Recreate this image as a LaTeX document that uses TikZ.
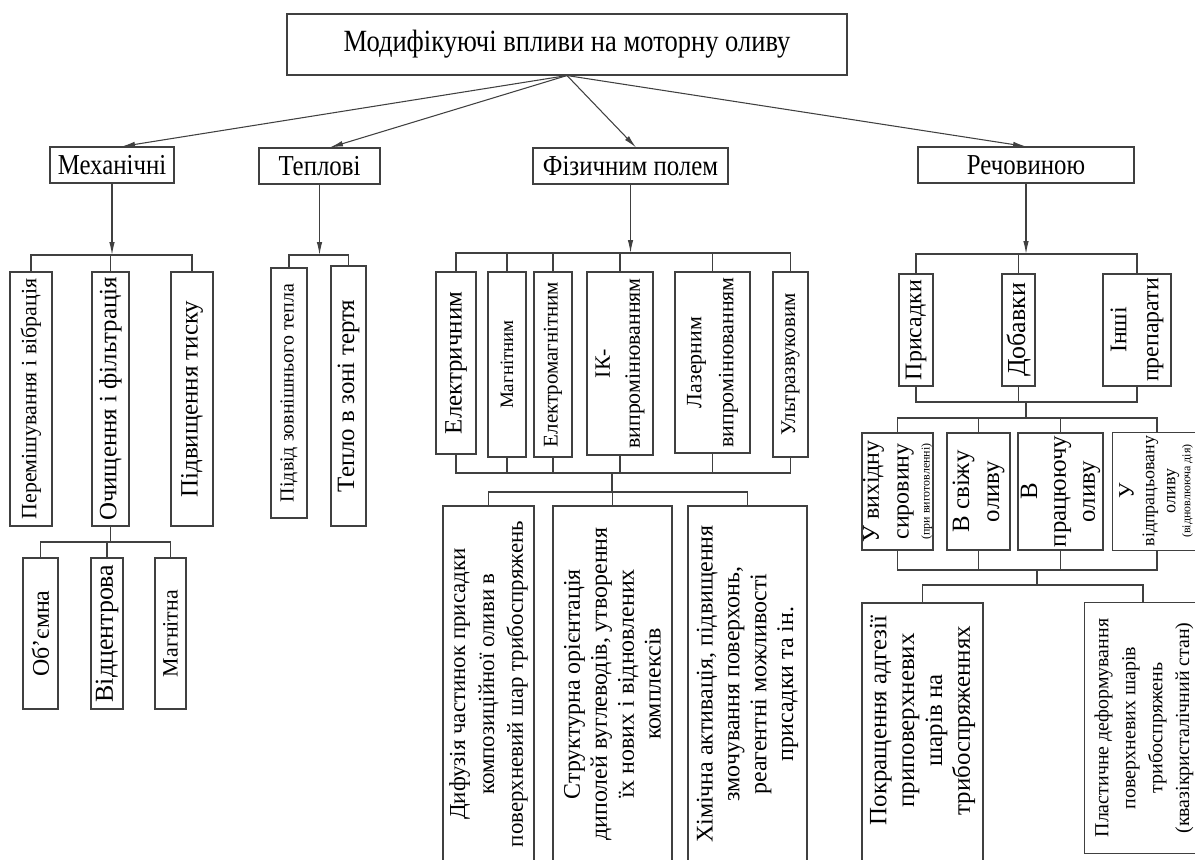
\documentclass[tikz,border=0pt]{standalone}
\usepackage{fontspec}
\setmainfont{Liberation Serif}
\newfontfamily\tallf[FakeStretch=0.86]{Liberation Serif}
\usetikzlibrary{arrows.meta,fit}
\newcommand\pxf[2]{\fontsize{\dimexpr0.5669pt*#1\relax}{\dimexpr0.5669pt*#2\relax}\selectfont}
\tikzset{
  bx/.style={draw=black!75, line width=0.6pt, inner sep=0pt, fit={#1}},
  obx/.style={inner sep=0pt, fit={#1}},
  vt/.style={rotate=90, align=center, inner sep=0pt},
  ht/.style={align=center, inner sep=0pt},
  ln/.style={draw=black!75, line width=0.6pt},
  arr/.style={ln, -{Latex[length=2.6mm,width=1.1mm]}}
}
\newcommand\BX[6][vt]{%
  \node[bx={#3 #4}] (#2) {};
  \node[#1, font={#5}] (#2-t) at (#2.center) {#6};}
\begin{document}
\begin{tikzpicture}[x=0.02cm, y=-0.02cm]
\useasboundingbox (0,0) rectangle (1195,859);
\fill[white] (0,0) rectangle (1195,859);
\clip (0,0) rectangle (1195,859);

% top
\BX[ht]{top}{(287,14)}{(847,75)}{\tallf\pxf{31}{36}}{Модифікуючі впливи на моторну оливу}

% level 1
\BX[ht]{mech}{(50,147)}{(174,183)}{\tallf\pxf{29}{34}}{Механічні}
\BX[ht]{therm}{(259,148)}{(380,184)}{\tallf\pxf{29}{34}}{Теплові}
\BX[ht]{phys}{(533,148)}{(728,184)}{\tallf\pxf{29}{34}}{Фізичним полем}
\BX[ht]{subst}{(918,147)}{(1134,183)}{\tallf\pxf{29}{34}}{Речовиною}

\draw[arr] (top.south) -- ([xshift=0.2cm]mech.north);
\draw[arr] (top.south) -- ([xshift=0.21cm]therm.north);
\draw[arr] (top.south) -- ([xshift=0.11cm]phys.north);
\draw[arr] (top.south) -- (subst.north);

% mechanical
\coordinate (mb) at (112,255);
\BX{m1}{(10,272)}{(52,526)}{\pxf{22}{26}}{Перемішування і вібрація}
\BX{m2}{(92,272)}{(129,526)}{\pxf{25}{30}}{Очищення і фільтрація}
\BX{m3}{(171,272)}{(213,526)}{\pxf{25}{30}}{Підвищення тиску}
\draw[arr] (mech.south) -- (mech.south |- mb);
\draw[ln] (m1.north) |- (mb) -| (m3.north);
\draw[ln] (m2.north) -- (m2.north |- mb);

\coordinate (ob) at (110,542);
\BX{o1}{(23,558)}{(58,709)}{\pxf{24}{28}}{Об’ємна}
\BX{o2}{(91,558)}{(123,709)}{\pxf{26}{30}}{Відцентрова}
\BX{o3}{(155,558)}{(186,709)}{\pxf{22}{26}}{Магнітна}
\draw[ln] (m2.south) -- (m2.south |- ob);
\draw[ln] (o1.north) |- (ob) -| (o3.north);
\draw[ln] (o2.north) -- (o2.north |- ob);

% thermal
\coordinate (tb) at (320,255);
\BX{t1}{(271,268)}{(307,518)}{\pxf{20}{24}}{Підвід зовнішнього тепла}
\BX{t2}{(331,266)}{(366,526)}{\pxf{25}{30}}{Тепло в зоні тертя}
\draw[arr] (therm.south) -- (therm.south |- tb);
\draw[ln] (t1.north) |- (tb) -| (t2.north);

% physical field
\coordinate (pb) at (628,253);
\BX{p1}{(436,272)}{(476,454)}{\pxf{25}{30}}{Електричним}
\BX{p2}{(488,272)}{(526,457)}{\pxf{19}{23}}{Магнітним}
\BX{p3}{(534,272)}{(572,457)}{\pxf{21}{25}}{Електромагнітним}
\BX{p4}{(587,272)}{(653,455)}{\pxf{22}{30}}{ІК-\\випромінюванням}
\BX{p5}{(675,272)}{(750,453)}{\pxf{22}{32}}{Лазерним\\випромінюванням}
\BX{p6}{(773,272)}{(808,457)}{\pxf{21}{25}}{Ультразвуковим}
\draw[arr] (phys.south) -- (phys.south |- pb);
\draw[ln] (p1.north) |- (pb) -| (p6.north);
\foreach \n in {p2,p3,p4,p5} \draw[ln] (\n.north) -- (\n.north |- pb);
\coordinate (pc) at (612,473);
\coordinate (pd) at (612,492);
\draw[ln] (p1.south) |- (pc) -| (p6.south);
\foreach \n in {p2,p3,p4,p5} \draw[ln] (\n.south) -- (\n.south |- pc);
\draw[ln] (pc) -- (pd);
\BX{q1}{(443,506)}{(534,862)}{\pxf{23}{29}}{Дифузія частинок присадки\\композиційної оливи в\\поверхневий шар трибоспряжень}
\BX{q2}{(553,506)}{(672,862)}{\pxf{24}{27}}{Структурна орієнтація\\диполей вуглеводів, утворення\\їх нових і відновлених\\комплексів}
\BX{q3}{(688,506)}{(807,862)}{\pxf{24}{27}}{Хімічна активація, підвищення\\змочування поверхонь,\\реагентні можливості\\присадки та ін.}
\draw[ln] (q1.north) |- (pd) -| (q3.north);
\draw[ln] (q2.north) -- (q2.north |- pd);

% substance
\coordinate (sb) at (1026,254);
\BX{s1}{(899,274)}{(933,386)}{\pxf{24}{28}}{Присадки}
\BX{s2}{(1002,274)}{(1035,386)}{\pxf{26}{30}}{Добавки}
\BX{s3}{(1103,274)}{(1171,386)}{\pxf{24}{32}}{Інші\\препарати}
\draw[arr] (subst.south) -- (subst.south |- sb);
\draw[ln] (s1.north) |- (sb) -| (s3.north);
\draw[ln] (s2.north) -- (s2.north |- sb);
\coordinate (sc) at (1026,402);
\coordinate (sd) at (1026,418);
\draw[ln] (s1.south) |- (sc) -| (s3.south);
\draw[ln] (s2.south) -- (s2.south |- sc);
\draw[ln] (sc) -- (sd);
\BX{r1}{(862,433)}{(933,550)}{\pxf{24}{30}}{У вихідну\\сировину\\[-0.18cm]{\pxf{12}{14}(при виготовленні)}}
\BX{r2}{(947,433)}{(1010,550)}{\pxf{25}{30}}{В свіжу\\оливу}
\BX{r3}{(1018,433)}{(1103,550)}{\pxf{25}{29}}{В\\працюючу\\оливу}
\node[obx={(1113,433) (1215,550)}] (r4) {};
\draw[ln] (r4.north east) -- (r4.north west) -- (r4.south west) -- (r4.south east);
\node[vt, font={\pxf{18}{21}}] (r4-t) at (1156,491) {{\pxf{22}{24}У}\\відпрацьовану\\оливу\\[-0.12cm]{\pxf{12}{14}(відновлююча дія)}};
\coordinate (r4d) at (1157,433);
\coordinate (r4u) at (1157,550);
\draw[ln] (r1.north) |- (sd) -| (r4d);
\foreach \n in {r2,r3} \draw[ln] (\n.north) -- (\n.north |- sd);
\coordinate (se) at (1037,570);
\coordinate (sf) at (1037,585);
\draw[ln] (r1.south) |- (se) -| (r4u);
\foreach \n in {r2,r3} \draw[ln] (\n.south) -- (\n.south |- se);
\draw[ln] (se) -- (sf);
\node[bx={(862,603) (983,862)}] (u1) {};
\node[vt, font={\pxf{25}{28}}] (u1-t) at ([yshift=0.24cm]u1.center) {Покращення адгезії\\приповерхневих\\шарів на\\трибоспряженнях};
\node[obx={(1085,603) (1215,853)}] (u2) {};
\draw[ln] (u2.north east) -- (u2.north west) -- (u2.south west) -- (u2.south east);
\node[vt, font={\pxf{20}{27}}] (u2-t) at (1144,728) {Пластичне деформування\\поверхневих шарів\\трибоспряжень\\(квазікристалічний стан)};
\coordinate (u2d) at (1143,603);
\draw[ln] (u1.north) |- (sf) -| (u2d);
\end{tikzpicture}
\end{document}
